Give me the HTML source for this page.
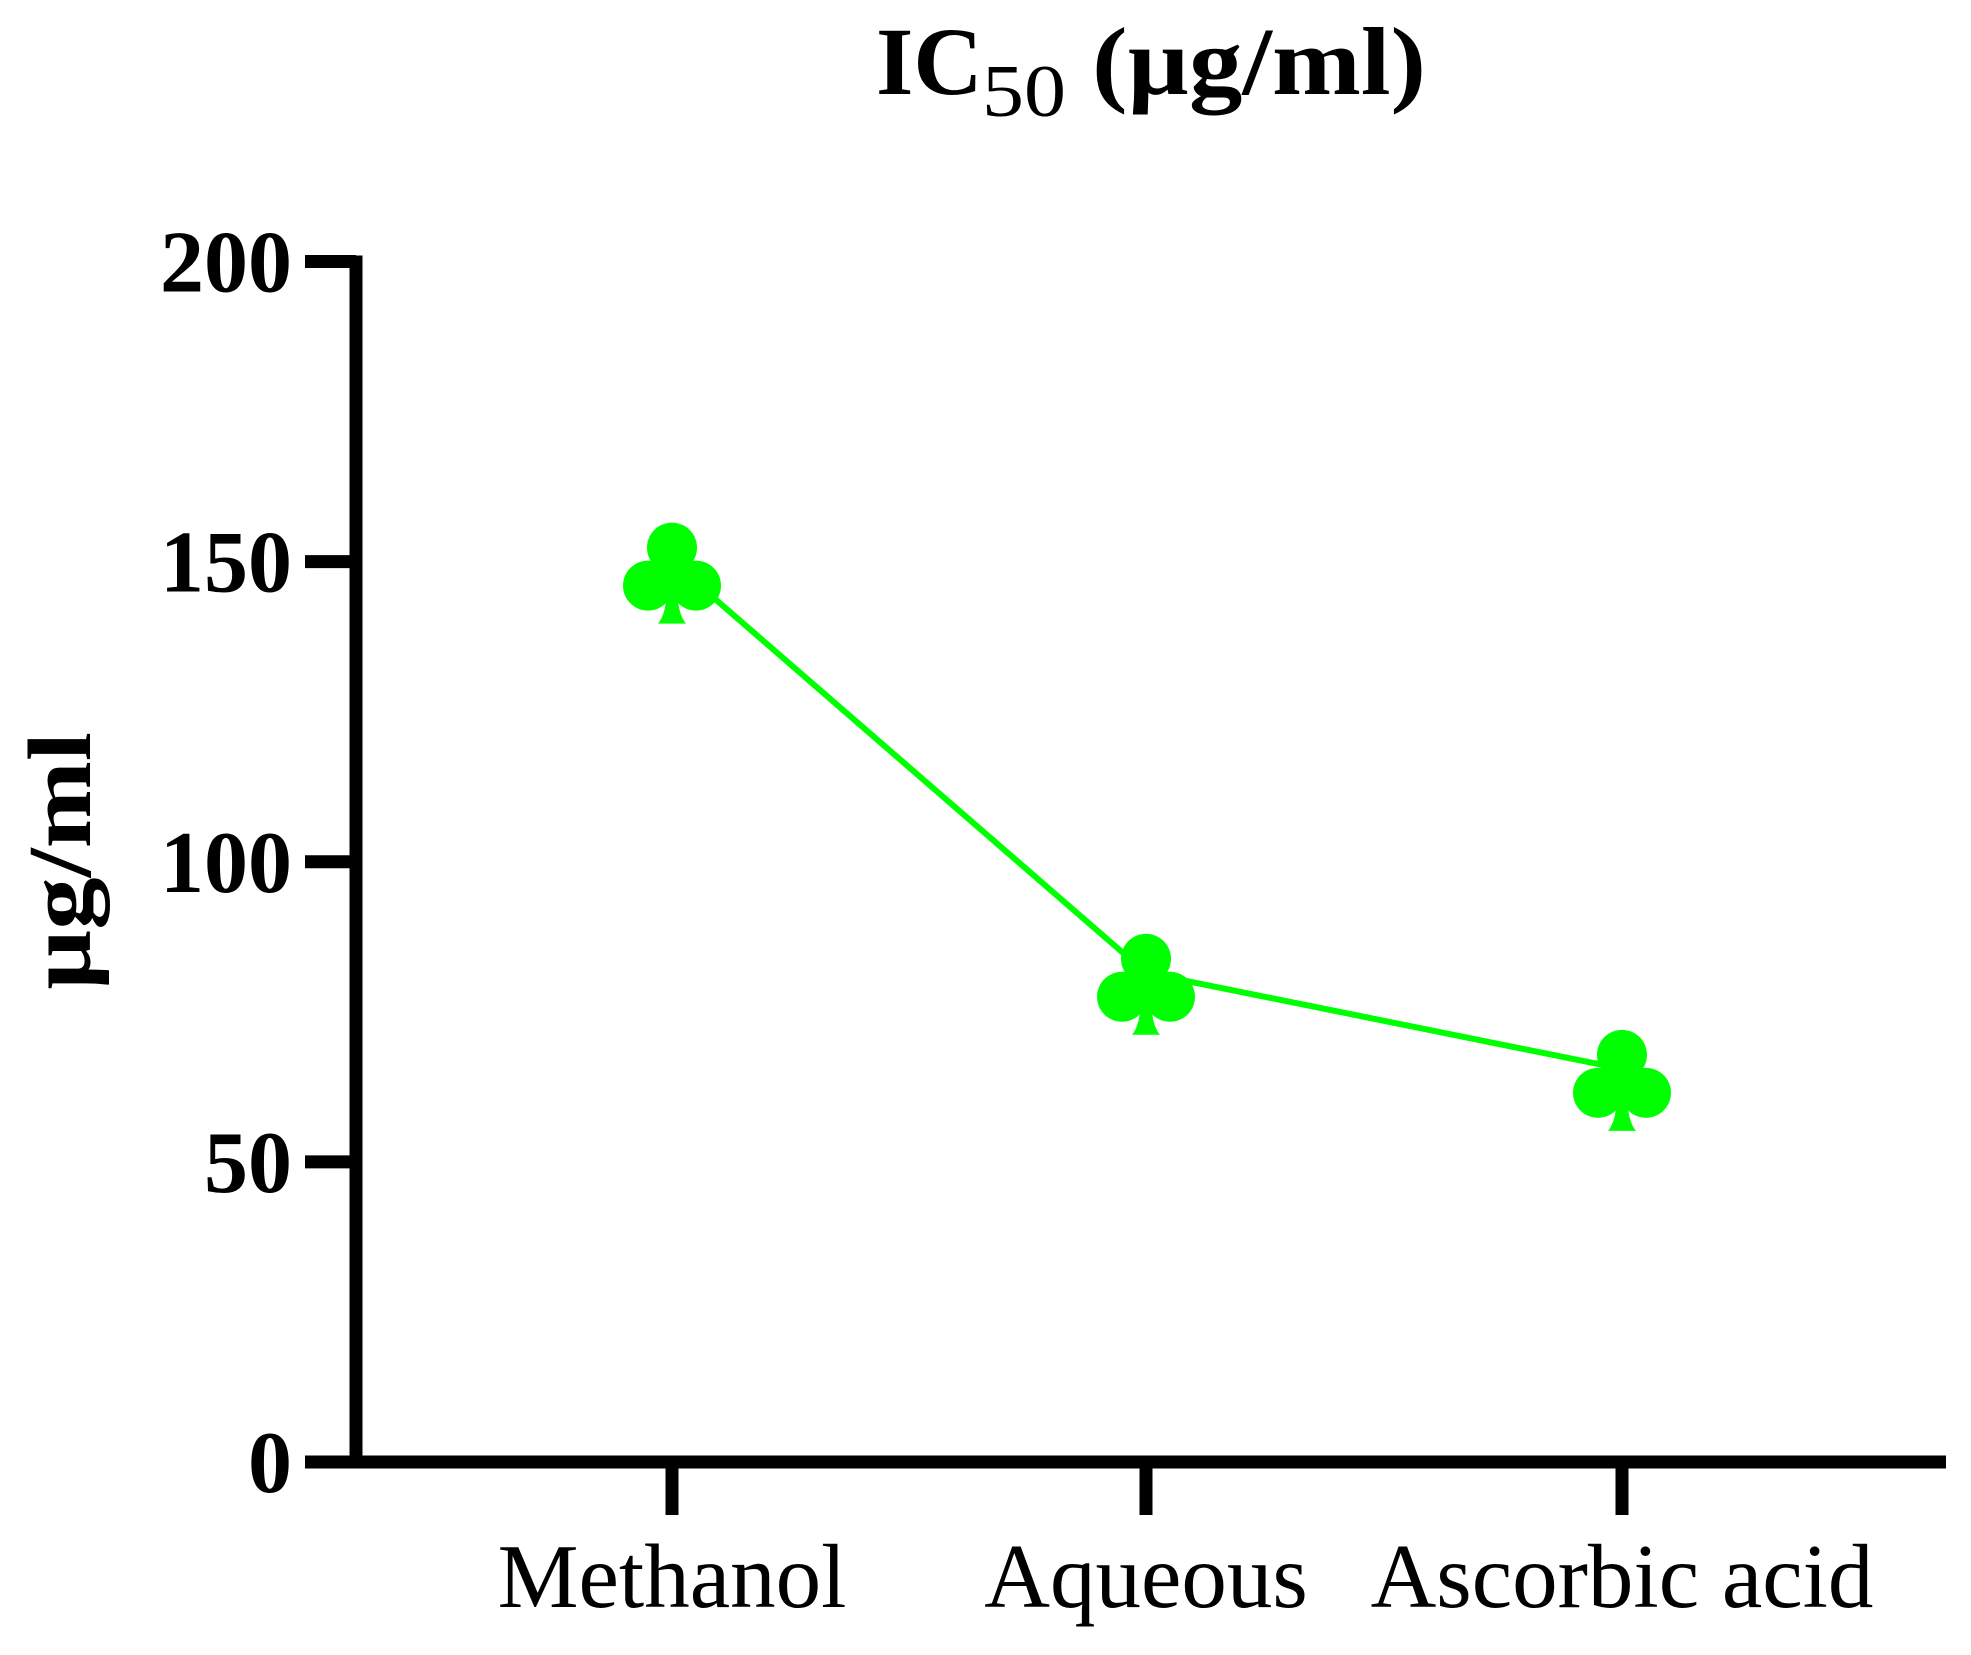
<!DOCTYPE html>
<html><head><meta charset="utf-8"><style>
html,body{margin:0;padding:0;background:#fff;}
svg{display:block;}
text{font-family:"Liberation Serif",serif;fill:#000;}
</style></head><body>
<svg id="chart" width="1971" height="1655" viewBox="0 0 1971 1655">
<text y="94" font-weight="bold" font-size="96"><tspan x="876">IC</tspan><tspan x="982" y="116" font-weight="normal" font-size="74" textLength="84" lengthAdjust="spacingAndGlyphs">50</tspan><tspan x="1092" y="94" textLength="334" lengthAdjust="spacingAndGlyphs">(µg/ml)</tspan></text>
<text transform="translate(90,861) rotate(-90)" text-anchor="middle" font-weight="bold" font-size="90" textLength="258" lengthAdjust="spacingAndGlyphs">µg/ml</text>
<g id="axes"></g>
<g id="series"></g>
</svg>
<script>
const categories = ["Methanol", "Aqueous", "Ascorbic acid"];
const values = [150, 81.5, 65.5];
const yTicks = [0, 50, 100, 150, 200];
const yTickLabels = ["0", "50", "100", "150", "200"];

const NS = "http://www.w3.org/2000/svg";
const x0 = 356, y0 = 1462, yTop = 261.5, yMax = 200;
const catX = [672, 1146, 1622];
function yScale(v){ return y0 - (v / yMax) * (y0 - yTop); }
function xScale(i){ return catX[i]; }
function mk(tag, attrs, parent){
  const el = document.createElementNS(NS, tag);
  for (const k in attrs) el.setAttribute(k, attrs[k]);
  parent.appendChild(el);
  return el;
}
const axes = document.getElementById('axes');
const series = document.getElementById('series');

let yAxis = mk('line', {x1:x0, y1:yTop-6, x2:x0, y2:y0+6, stroke:'#000','stroke-width':13}, axes);


let xAxis = mk('line', {x1:x0, y1:y0, x2:1946, y2:y0, stroke:'#000','stroke-width':13}, axes);



yTicks.forEach((t, i) => {
  const y = yScale(t);
  const tk = mk('line', {x1:305, y1:y, x2:x0, y2:y, stroke:'#000','stroke-width':13}, axes);
  
  
  const lb = mk('text', {x:292, y:y+30, 'text-anchor':'end', 'font-weight':'bold', 'font-size':88}, axes);
  lb.textContent = yTickLabels[i];
  
  
});

categories.forEach((c, i) => {
  const x = xScale(i);
  const tk = mk('line', {x1:x, y1:y0, x2:x, y2:1515, stroke:'#000','stroke-width':13}, axes);
  
  
  const lb = mk('text', {x:x, y:1607, 'text-anchor':'middle', 'font-size':91}, axes);
  lb.textContent = c;
  
  
});

const pts = values.map((v, i) => xScale(i) + ',' + yScale(v)).join(' ');
const line = mk('polyline', {points:pts, fill:'none', stroke:'#00ff00', 'stroke-width':6}, series);



values.forEach((v, i) => {
  const cx = xScale(i), cy = yScale(v);
  const g = mk('g', {transform:'translate(' + cx + ',' + cy + ')', fill:'#00ff00'}, series);
  
  
  mk('circle', {cx:0, cy:-14, r:25}, g);
  mk('circle', {cx:-24, cy:24, r:25}, g);
  mk('circle', {cx:24, cy:24, r:25}, g);
  mk('path', {d:'M-12,0 L12,0 L6,40 Q8,55 14,62 L-14,62 Q-8,55 -6,40 Z'}, g);
});
</script>
</body></html>
